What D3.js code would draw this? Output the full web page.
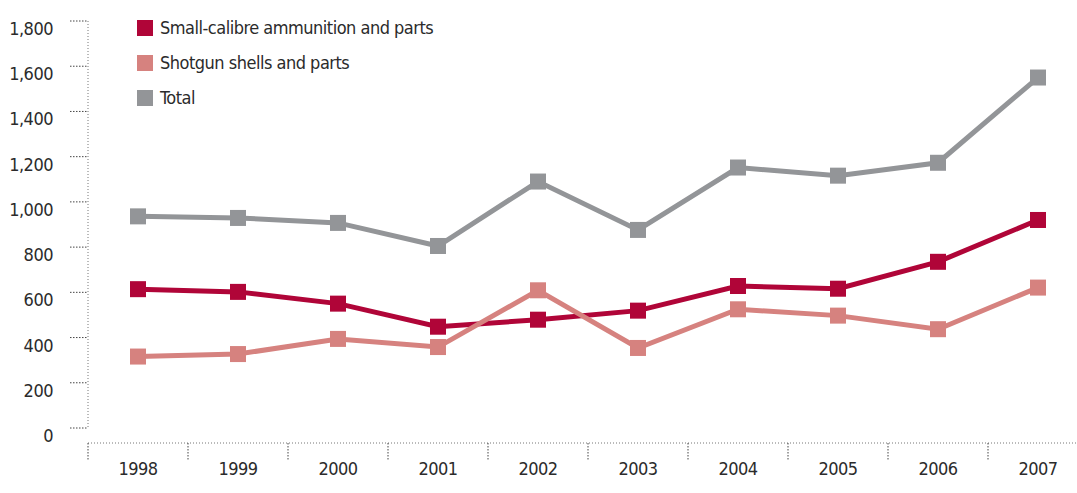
<!DOCTYPE html>
<html>
<head>
<meta charset="utf-8">
<script src="https://cdn.jsdelivr.net/npm/d3@7"></script>
<style>
  body { margin: 0; background: #fff; }
  text { font-family: "DejaVu Sans Condensed", "Liberation Sans Narrow", "Roboto", sans-serif; fill: #2b2b2b; letter-spacing: -0.5px; }
</style>
</head>
<body>
<div id="chart"></div>
<script>
var years = ["1998","1999","2000","2001","2002","2003","2004","2005","2006","2007"];
var smallCalibre = [614, 602, 550, 448, 479, 519, 628, 616, 735, 920];
var shotgun = [316, 327, 394, 358, 609, 354, 525, 497, 437, 621];
var total = [936, 929, 907, 805, 1090, 876, 1152, 1116, 1173, 1550];
var yTicks = [0, 200, 400, 600, 800, 1000, 1200, 1400, 1600, 1800];

var series = [
  {name: "Small-calibre ammunition and parts", values: smallCalibre, color: "#b00538"},
  {name: "Shotgun shells and parts", values: shotgun, color: "#d6827f"},
  {name: "Total", values: total, color: "#939598"}
];

var width = 1077, height = 493;

var svg = d3.select("#chart").append("svg")
    .attr("width", width)
    .attr("height", height);

var x = d3.scaleBand().domain(years).range([88, 1088]);
var y = d3.scaleLinear().domain([0, 1800]).range([428, 21]);

// y axis (dotted)
var yAxis = svg.append("g");
yAxis.append("line")
    .attr("x1", 88).attr("x2", 88)
    .attr("y1", y(1800)).attr("y2", y(0))
    .attr("stroke", "#777").attr("stroke-dasharray", "1,2");
yAxis.selectAll(".ytick").data(yTicks).enter().append("line")
    .attr("x1", 70).attr("x2", 88)
    .attr("y1", function(d){return y(d)}).attr("y2", function(d){return y(d)})
    .attr("stroke", "#444").attr("stroke-dasharray", "1.5,1.5");
yAxis.selectAll(".ylab").data(yTicks).enter().append("text")
    .attr("x", 53)
    .attr("y", function(d){return y(d) + 14})
    .attr("text-anchor", "end")
    .attr("font-size", 18)
    .text(function(d){return d3.format(",")(d)});

// x axis (dotted)
var xAxis = svg.append("g");
xAxis.append("line")
    .attr("x1", 88).attr("x2", width)
    .attr("y1", 443).attr("y2", 443)
    .attr("stroke", "#777").attr("stroke-dasharray", "1,2");
xAxis.selectAll(".xtick").data(years).enter().append("line")
    .attr("x1", function(d){return x(d)}).attr("x2", function(d){return x(d)})
    .attr("y1", 443).attr("y2", 461)
    .attr("stroke", "#444").attr("stroke-dasharray", "1.5,1.5");
xAxis.selectAll(".xlab").data(years).enter().append("text")
    .attr("x", function(d){return x(d) + x.bandwidth()/2})
    .attr("y", 475)
    .attr("text-anchor", "middle")
    .attr("font-size", 18)
    .text(function(d){return d});

// lines: total first, then small-calibre, shotgun on top
var drawOrder = [series[2], series[0], series[1]];
var line = d3.line()
    .x(function(d, i){return x(years[i]) + x.bandwidth()/2})
    .y(function(d){return y(d)});

drawOrder.forEach(function(s){
  var g = svg.append("g");
  g.append("path")
    .attr("d", line(s.values))
    .attr("fill", "none")
    .attr("stroke", s.color)
    .attr("stroke-width", 5);
  g.selectAll("rect").data(s.values).enter().append("rect")
    .attr("x", function(d, i){return x(years[i]) + x.bandwidth()/2 - 8})
    .attr("y", function(d){return y(d) - 8})
    .attr("width", 16).attr("height", 16)
    .attr("fill", s.color);
});

// legend
var legend = svg.append("g");
series.forEach(function(s, i){
  legend.append("rect")
    .attr("x", 137).attr("y", 20 + i*35)
    .attr("width", 16).attr("height", 16)
    .attr("fill", s.color);
  legend.append("text")
    .attr("x", 160).attr("y", 34 + i*35)
    .attr("font-size", 18)
    .text(s.name);
});
</script>
</body>
</html>
